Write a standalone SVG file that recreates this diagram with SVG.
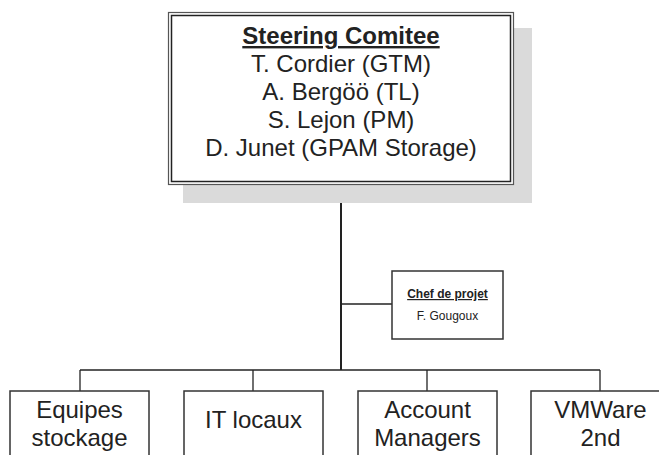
<svg xmlns="http://www.w3.org/2000/svg" width="659" height="455" viewBox="0 0 659 455">
<style>
text{font-family:"Liberation Sans",Arial,sans-serif;fill:#222;text-anchor:middle}
.big{font-size:24px}
.small{font-size:12px}
.b{font-weight:bold;text-decoration:underline}
.box{fill:#fff;stroke:#333;stroke-width:1.5}
.ln{stroke:#222;fill:none;stroke-width:1.3}
</style>
<rect width="659" height="455" fill="#fff"/>
<g id="connectors">
<line class="ln" x1="341" y1="184" x2="341" y2="370" style="stroke-width:2"/>
<line class="ln" x1="341" y1="304" x2="392" y2="304"/>
<line class="ln" x1="80" y1="370" x2="600" y2="370"/>
<line class="ln" x1="80" y1="370" x2="80" y2="391"/>
<line class="ln" x1="253" y1="370" x2="253" y2="391"/>
<line class="ln" x1="427" y1="370" x2="427" y2="391"/>
<line class="ln" x1="600" y1="370" x2="600" y2="391"/>
</g>
<g id="steering">
<rect x="183" y="28" width="349" height="175" fill="#dadada"/>
<rect x="168.5" y="12.5" width="345" height="172" fill="#fff" stroke="#555" stroke-width="1.2"/>
<rect x="171.5" y="15.5" width="339" height="166" fill="#fff" stroke="#222" stroke-width="1.5"/>
<text class="big b" x="341" y="44">Steering Comitee</text>
<text class="big" x="341" y="72">T. Cordier (GTM)</text>
<text class="big" x="341" y="100">A. Bergöö (TL)</text>
<text class="big" x="341" y="128">S. Lejon (PM)</text>
<text class="big" x="341" y="156">D. Junet (GPAM Storage)</text>
</g>
<g id="chef">
<rect class="box" x="392" y="271" width="111" height="68"/>
<text class="small b" x="447.5" y="298">Chef de projet</text>
<text class="small" x="447.5" y="320">F. Gougoux</text>
</g>
<g id="equipes">
<rect class="box" x="10" y="391" width="139" height="80"/>
<text class="big" x="79.5" y="418">Equipes</text>
<text class="big" x="79.5" y="446">stockage</text>
</g>
<g id="itlocaux">
<rect class="box" x="184" y="391" width="139" height="80"/>
<text class="big" x="253.5" y="428">IT locaux</text>
</g>
<g id="account">
<rect class="box" x="358" y="391" width="139" height="80"/>
<text class="big" x="427.5" y="418">Account</text>
<text class="big" x="427.5" y="446">Managers</text>
</g>
<g id="vmware">
<rect class="box" x="531" y="391" width="139" height="80"/>
<text class="big" x="600.5" y="418">VMWare</text>
<text class="big" x="600.5" y="446">2nd</text>
</g>
</svg>
